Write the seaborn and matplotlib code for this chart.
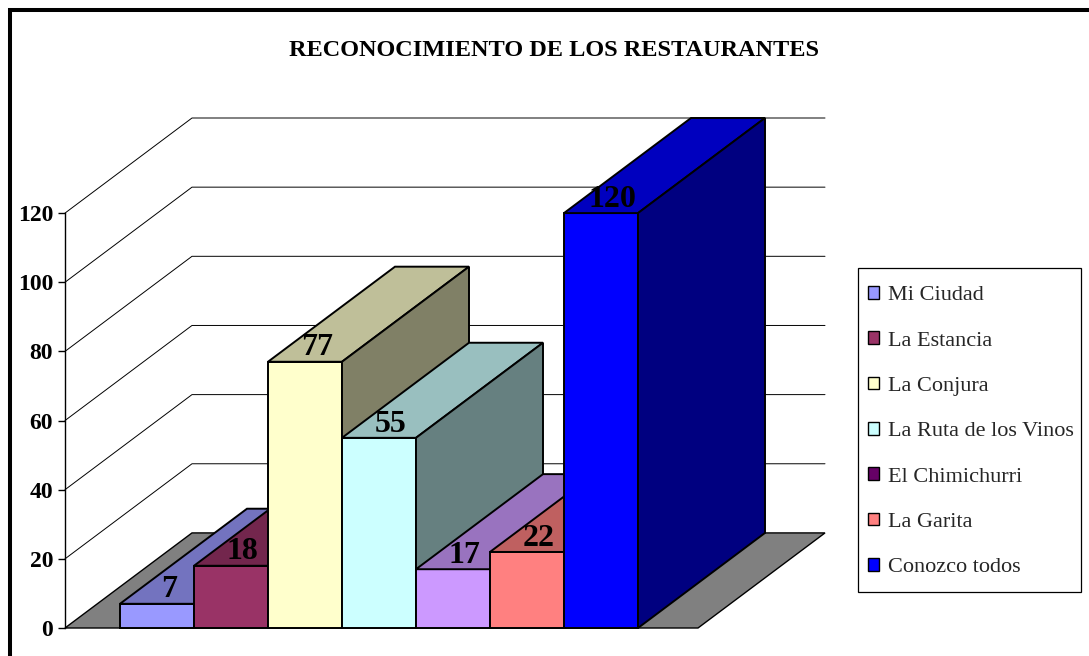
import matplotlib
matplotlib.use("Agg")
import matplotlib.pyplot as plt
import seaborn as sns
from matplotlib.patches import Polygon, Rectangle, Patch
from matplotlib.lines import Line2D
from matplotlib.colors import to_rgb

# ---- data ----
categories = ["Mi Ciudad", "La Estancia", "La Conjura", "La Ruta de los Vinos",
              "El Chimichurri", "La Garita", "Conozco todos"]
values = [7, 18, 77, 55, 17, 22, 120]
bar_colors = ["#9999FF", "#993366", "#FFFFCC", "#CCFFFF", "#CC99FF", "#FF8080", "#0000FF"]
legend_colors = ["#9999FF", "#993366", "#FFFFCC", "#CCFFFF", "#660066", "#FF8080", "#0000FF"]
y_ticks = [0, 20, 40, 60, 80, 100, 120]
title = "RECONOCIMIENTO DE LOS RESTAURANTES"

sns.set_theme(style="white")
plt.rcParams['font.family'] = ['Liberation Serif', 'DejaVu Serif']

W, H = 1089, 656
fig = plt.figure(figsize=(W / 100, H / 100), dpi=100)
ax = fig.add_axes([65 / W, (H - 628) / H, (825 - 65) / W, (628 - 118) / H])

DX = 127 / 74          # depth offset (x, in bar units)
DY = 27.5              # depth offset (y, in value units)
XL = -0.5 - 55 / 74
XR = -0.5 + (698 - 120) / 74

def shade(c, f):
    r, g, b = to_rgb(c)
    return (r * f, g * f, b * f)

# back walls + gridlines
for v in y_ticks[1:]:
    ax.plot([XL, XL + DX, XR + DX], [v, v + DY, v + DY], color="black", lw=0.7,
            zorder=1, clip_on=False)

# floor
ax.add_patch(Polygon([(XL, 0), (XL + DX, DY), (XR + DX, DY), (XR, 0)],
                     closed=True, fc="#808080", ec="black", lw=1.0, zorder=2, clip_on=False))

# front faces
sns.barplot(x=categories, y=values, hue=categories, palette=bar_colors, order=categories,
            hue_order=categories, width=1.0, legend=False, edgecolor="black",
            linewidth=1.4, saturation=1, ax=ax)

bars = [p for p in ax.patches if isinstance(p, Rectangle)][:len(values)]
for i, p in enumerate(bars):
    x0, w, h = p.get_x(), p.get_width(), p.get_height()
    fc = p.get_facecolor()
    z = 10 + 3 * i
    p.set_zorder(z)
    p.set_clip_on(False)
    top = Polygon([(x0, h), (x0 + DX, h + DY), (x0 + w + DX, h + DY), (x0 + w, h)],
                  closed=True, fc=shade(fc, 0.75), ec="black", lw=1.4, zorder=z + 1, clip_on=False)
    side = Polygon([(x0 + w, 0), (x0 + w, h), (x0 + w + DX, h + DY), (x0 + w + DX, DY)],
                   closed=True, fc=shade(fc, 0.5), ec="black", lw=1.4, zorder=z + 1, clip_on=False)
    ax.add_patch(top)
    ax.add_patch(side)
    ax.text(x0 + w / 2 + 0.16, h + 4.0, f"{values[i]}", ha="center", va="center",
            fontsize=23, fontweight="bold", color="black", zorder=100)

ax.set_xlim(XL, XR + DX)
ax.set_ylim(0, 120 + DY)
ax.set_xlabel("")
ax.set_ylabel("")
ax.set_xticks([])
ax.set_yticks(y_ticks)
ax.set_yticklabels([str(v) for v in y_ticks], fontsize=17, fontweight="bold")
for s in ["top", "right", "bottom"]:
    ax.spines[s].set_visible(False)
ax.spines["left"].set_bounds(0, 120)
ax.spines["left"].set_color("black")
ax.spines["left"].set_linewidth(1.0)
ax.spines["left"].set_zorder(3)
ax.tick_params(axis="y", left=True, direction="out", length=5, width=1, color="black",
               pad=3.6, labelcolor="black")
ax.patch.set_alpha(0)

fig.text(554 / W, 1 - 50 / H, title, ha="center", va="center", fontsize=17.5,
         fontweight="bold", color="black")

# legend
fig.add_artist(Rectangle((858 / W, 1 - 592 / H), (1081 - 858) / W, (592 - 268) / H,
                         fill=False, ec="black", lw=0.9, transform=fig.transFigure))
handles = [Patch(fc=c, ec="black", lw=1.0) for c in legend_colors]
leg = fig.legend(handles, categories, loc="upper left",
                 bbox_to_anchor=(858 / W, 1 - 276 / H), borderaxespad=0,
                 fontsize=16, frameon=False, labelspacing=1.175,
                 handlelength=0.5, handleheight=0.5, handletextpad=0.4,
                 borderpad=0.45)

# outer chart frame (left and top edges)
fig.add_artist(Line2D([10 / W, 10 / W, 1.0], [0.0, 1 - 10 / H, 1 - 10 / H], color="black",
                      lw=2.9, solid_joinstyle="miter", transform=fig.transFigure))

fig.savefig("out.png", dpi=100)
